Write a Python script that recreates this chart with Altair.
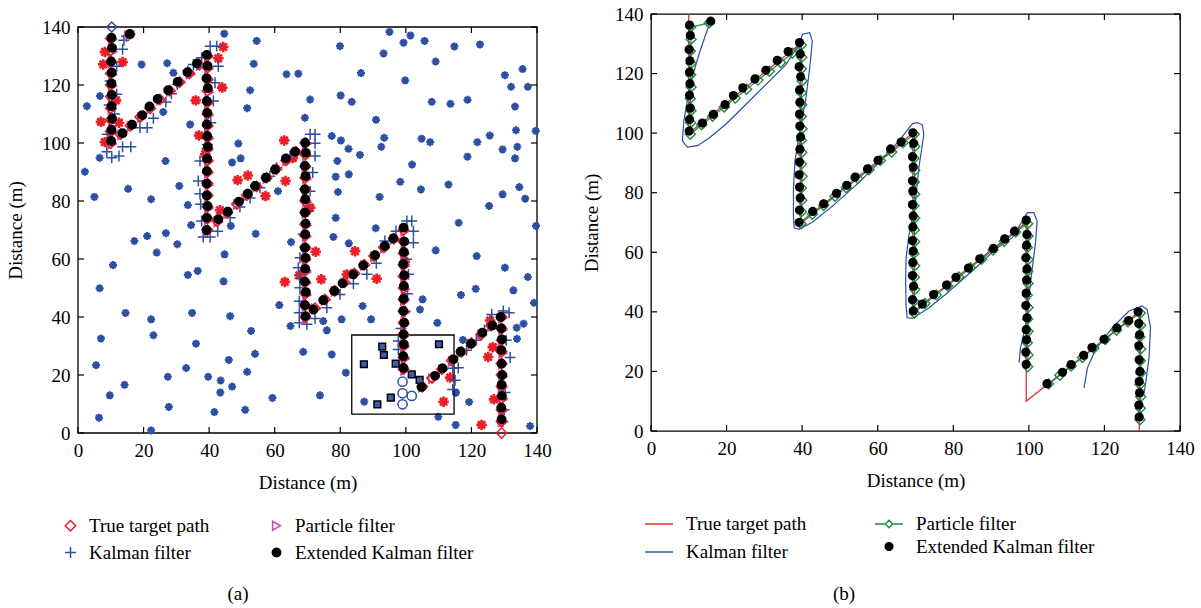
import altair as alt
import pandas as pd

FONT = "Liberation Serif"
TICKS = [0, 20, 40, 60, 80, 100, 120, 140]
LIMITS_LO = [0]
LIMITS_HI = [140]
# legend order (filled column by column): True / Kalman | Particle / Extended
SERIES = ["True target path", "Kalman filter", "Particle filter", "Extended Kalman filter"]

# ---------------- panel (a) : sensor field ----------------
SENSOR_X = [44.6, 54.5, 19.4, 27.2, 53.6, 63.6, 67.2, 29.1, 52.5, 6.7, 2.7, 51.6, 26.0, 34.2, 48.9, 6.6, 26.7, 49.6, 47.0, 2.1,
            30.9, 15.3, 61.0, 5.0, 22.3, 33.5, 34.5, 46.6, 54.2, 21.1, 26.8, 17.2, 30.3, 65.0,
            24.0, 44.7, 10.7, 33.5, 36.5, 44.4, 6.6, 61.4, 14.5, 34.8, 46.4, 22.3, 52.8, 23.0, 7.0, 36.0, 64.8, 54.0, 46.0, 5.5,
            33.0, 51.6, 27.4, 39.7, 43.5, 14.2, 47.0, 43.4, 9.7, 59.3, 27.7, 51.0, 41.6, 6.4, 22.3,
            95.0, 101.4, 79.9, 99.3, 105.7, 114.8, 122.6, 93.2, 109.1, 86.3, 99.8, 130.2, 135.6, 132.1, 137.2, 70.8, 80.1, 83.5,
            107.9, 113.6, 118.8, 133.3, 69.2, 90.9, 133.6, 139.6, 77.4, 80.2, 93.4, 104.8, 107.4, 125.6, 121.8, 82.5, 92.5, 129.5,
            134.0, 86.0, 118.8, 133.3, 79.1, 101.9, 78.6, 82.6, 98.3, 113.0, 104.6, 134.6, 79.3, 92.0, 129.5, 136.4, 125.4, 78.6,
            116.1, 139.7, 90.8, 77.9, 82.6, 109.1,
            121.6, 130.2, 137.2, 121.3, 132.8, 116.8, 105.1, 139.1, 104.3, 86.8, 80.4, 89.4, 74.8, 75.9, 109.6, 135.9, 133.8,
            133.9, 117.4, 68.7, 77.4, 81.7, 73.8, 87.3, 119.3, 115.3, 109.9, 115.2, 137.9]
SENSOR_Y = [137.7, 135.2, 127.1, 127.5, 127.3, 123.7, 123.9, 124.2, 118.2, 116.2, 112.7, 112.0, 110.7, 106.4, 99.8, 94.9, 93.8, 94.7, 93.3, 90.1,
            85.2, 84.2, 83.4, 81.4, 80.6, 78.6, 71.7, 71.4, 68.7, 67.9, 68.9, 66.2, 65.1, 65.8,
            62.2, 61.6, 57.9, 54.5, 55.9, 52.3, 49.9, 44.1, 41.4, 41.4, 40.3, 39.2, 35.2, 33.7, 32.6, 30.8, 36.9, 27.3, 25.2, 23.4,
            22.4, 21.1, 19.4, 19.4, 18.1, 16.6, 16.0, 14.0, 13.0, 12.1, 9.0, 8.0, 7.2, 5.3, 0.9,
            138.3, 137.1, 133.4, 134.6, 135.2, 133.3, 134.0, 130.9, 128.1, 124.1, 121.6, 123.4, 125.5, 119.4, 119.4, 115.0, 116.4, 114.2,
            114.2, 113.5, 114.9, 112.6, 108.7, 108.0, 104.4, 104.2, 102.4, 100.9, 101.8, 101.5, 100.3, 102.6, 100.3, 98.0, 98.7, 97.8,
            98.7, 95.9, 95.3, 94.7, 93.8, 92.6, 88.4, 89.2, 86.6, 85.7, 84.0, 84.8, 83.1, 81.4, 82.3, 80.8, 78.3, 74.2,
            72.5, 71.4, 70.6, 67.6, 65.4, 63.0,
            61.0, 57.0, 53.8, 49.7, 49.2, 47.6, 46.1, 44.9, 42.6, 43.8, 39.2, 39.2, 38.6, 35.4, 38.0, 37.7, 36.3,
            32.5, 32.1, 28.0, 27.1, 20.8, 13.0, 10.8, 10.7, 13.9, 5.6, 2.8, 2.4]

HIT_X = [15.9, 8.2, 7.7, 13.6, 44.3, 42.8, 44.0, 35.9, 11.6, 7.0, 12.5, 8.2, 36.9, 62.9, 38.8, 48.7, 51.8, 63.3, 57.2, 43.3,
         65.5, 70.8, 84.5, 63.1, 72.5, 74.2, 91.1, 67.5, 82.0, 99.7, 125.1, 126.5, 125.7, 113.5, 111.5, 126.9, 123.1]
HIT_Y = [137.5, 131.4, 127.1, 127.9, 133.1, 129.2, 119.1, 114.7, 114.7, 107.3, 107.0, 100.3, 102.6, 100.9, 96.1, 87.2, 88.8, 86.9, 81.7, 76.8,
         94.8, 77.7, 62.7, 52.1, 62.5, 53.0, 53.2, 54.4, 54.7, 59.0, 26.2, 29.6, 38.8, 19.1, 10.8, 11.6, 2.8]

# ---------------- target path and estimates ----------------
TRUE_X = [10, 10, 10, 10, 10, 10, 10, 10, 10, 10,
          13, 16, 19, 22, 25, 28, 31, 34, 37,
          39.5, 39.5, 39.5, 39.5, 39.5, 39.5, 39.5, 39.5, 39.5, 39.5, 39.5, 39.5, 39.5, 39.5, 39.5, 39.5,
          42.5, 45.5, 48.5, 51.5, 54.5, 57.5, 60.5, 63.5, 66.5,
          69.3, 69.3, 69.3, 69.3, 69.3, 69.3, 69.3, 69.3, 69.3, 69.3, 69.3, 69.3, 69.3, 69.3, 69.3, 69.3,
          72.3, 75.3, 78.3, 81.3, 84.3, 87.3, 90.3, 93.3, 96.3,
          99.3, 99.3, 99.3, 99.3, 99.3, 99.3, 99.3, 99.3, 99.3, 99.3, 99.3, 99.3, 99.3,
          105, 108, 111, 114, 117, 120, 123, 126,
          129.2, 129.2, 129.2, 129.2, 129.2, 129.2, 129.2, 129.2, 129.2, 129.2, 129.2]
TRUE_Y = [136, 132, 128, 124, 120, 116, 112, 108, 104, 100,
          103, 106, 109, 112, 115, 118, 121, 124, 127,
          130, 126, 122, 118, 114, 110, 106, 102, 98, 94, 90, 86, 82, 78, 74, 70,
          73, 76, 79, 82, 85, 88, 91, 94, 97,
          100, 96, 92, 88, 84, 80, 76, 72, 68, 64, 60, 56, 52, 48, 44, 40,
          43, 46, 49, 52, 55, 58, 61, 64, 67,
          70, 66, 62, 58, 54, 50, 46, 42, 38, 34, 30, 26, 22,
          16, 19, 22, 25, 28, 31, 34, 37,
          40, 36, 32, 28, 24, 20, 16, 12, 8, 4, 0]

EKF_X = [15.8, 10.2, 10.4, 10.1, 10.3, 10.2, 10.3, 10.2, 10.4, 10.2, 10.1,
         13.6, 16.5, 19.6, 21.8, 24.3, 27.5, 30.4, 33.4, 36.3,
         39.3, 39.5, 39.2, 39.6, 39.3, 39.4, 39.3, 39.4, 39.6, 39.4, 39.3, 39.2, 39.3, 39.5, 39.3, 39.2,
         42.8, 45.7, 49.1, 51.8, 54.0, 57.3, 60.1, 63.4, 66.2,
         69.3, 69.5, 69.2, 69.4, 69.2, 69.3, 69.2, 69.4, 69.3, 69.2, 69.4, 69.3, 69.2, 69.5, 69.2, 69.4,
         71.8, 74.8, 78.2, 80.7, 84.0, 87.0, 90.6, 93.6, 96.2,
         99.3, 99.5, 99.4, 99.2, 99.5, 99.4, 99.3, 99.2, 99.5, 99.3, 99.4, 99.2, 99.3,
         104.8, 108.9, 111.2, 114.5, 116.7, 119.9, 123.3, 126.4,
         128.9, 129.1, 129.3, 129.1, 129.2, 129.4, 129.2, 129.3, 129.1, 129.2]
EKF_Y = [137.6, 136.3, 132.8, 128.1, 124.3, 120.5, 116.6, 112.7, 108.4, 104.6, 100.7,
         103.4, 106.3, 109.6, 112.6, 115.2, 118.2, 121.1, 124.4, 127.4,
         130.4, 126.6, 122.3, 118.9, 114.5, 110.4, 106.4, 102.4, 98.7, 94.6, 90.3, 86.0, 81.9, 78.3, 74.2, 70.0,
         73.7, 76.3, 79.8, 82.5, 85.2, 88.0, 90.9, 94.7, 97.0,
         100.1, 96.6, 92.1, 88.6, 84.0, 80.6, 76.0, 72.2, 68.5, 63.9, 60.4, 56.6, 52.2, 48.6, 44.1, 40.3,
         42.6, 45.8, 49.0, 51.6, 54.7, 57.8, 61.3, 64.5, 67.1,
         70.8, 66.0, 62.4, 58.2, 54.4, 50.7, 46.3, 42.1, 38.0, 34.0, 30.6, 26.5, 22.4,
         15.9, 19.7, 22.3, 25.4, 28.0, 30.8, 34.6, 37.1,
         40.0, 36.1, 32.3, 28.6, 23.9, 20.0, 16.6, 12.8, 8.7, 4.7]

PF1_X = [15.4, 10.5, 10.6, 10.4, 10.6, 10.5, 10.6, 10.4, 10.6, 10.5, 10.4,
         13.4, 16.3, 19.4, 22.3, 25.3, 28.3, 31.3, 34.3, 37.4,
         39.8, 39.9, 39.8, 40.0, 39.8, 39.9, 39.8, 40.0, 39.8, 39.9, 39.8, 40.0, 39.8, 39.9, 39.8, 39.7,
         42.7, 45.7, 48.7, 51.7, 54.7, 57.7, 60.7, 63.7, 66.7,
         69.7, 69.8, 69.6, 69.8, 69.7, 69.8, 69.6, 69.8, 69.7, 69.8, 69.6, 69.8, 69.7, 69.8, 69.6, 69.7,
         72.5, 75.5, 78.5, 81.5, 84.5, 87.5, 90.5, 93.5, 96.5,
         99.7, 99.8, 99.6, 99.8, 99.7, 99.8, 99.6, 99.8, 99.7, 99.8, 99.6, 99.8, 99.7]
PF1_Y = [137.0, 135.6, 131.5, 127.6, 123.5, 119.6, 115.5, 111.6, 107.5, 103.5, 99.6,
         102.8, 105.7, 108.8, 111.8, 114.7, 117.8, 120.8, 123.7, 126.8,
         129.6, 125.5, 121.6, 117.5, 113.6, 109.5, 105.6, 101.5, 97.6, 93.5, 89.6, 85.5, 81.6, 77.5, 73.6, 69.6,
         72.8, 75.7, 78.8, 81.7, 84.8, 87.7, 90.8, 93.7, 96.8,
         99.6, 95.5, 91.6, 87.5, 83.6, 79.5, 75.6, 71.5, 67.6, 63.5, 59.6, 55.5, 51.6, 47.5, 43.6, 39.6,
         42.8, 45.7, 48.8, 51.7, 54.8, 57.7, 60.8, 63.7, 66.8,
         69.6, 65.5, 61.6, 57.5, 53.6, 49.5, 45.6, 41.5, 37.6, 33.5, 29.6, 25.5, 21.6]
PF2_X = [105.2, 108.2, 111.2, 114.2, 117.2, 120.2, 123.2, 126.2, 129.5, 129.6, 129.4, 129.6, 129.5, 129.6, 129.4, 129.6, 129.5, 129.4]
PF2_Y = [15.8, 18.7, 21.8, 24.7, 27.8, 30.7, 33.8, 36.7, 39.6, 35.5, 31.6, 27.5, 23.6, 19.5, 15.6, 11.5, 7.6, 3.8]

KF_A_X = [14.0, 13.6, 11.8, 9.8, 11.8, 9.5, 11.2, 8.9, 8.8, 10.3, 12.5, 13.6, 16.1, 14.8,
          18.9, 21.1, 23.0, 26.8, 28.5, 30.3, 33.5, 35.2, 37.7,
          40.3, 42.3, 42.8, 41.8, 41.3, 40.5, 39.4, 37.2, 36.7, 37.2, 37.4, 37.7, 38.2, 40.3,
          42.6, 46.4, 49.4, 52.5, 55.5, 58.5, 60.6, 64.7,
          70.8, 72.3, 72.3, 72.3, 71.6, 70.8, 70.2, 68.7, 67.7, 67.2, 67.7, 67.7, 67.5, 67.5, 67.5, 69.8,
          72.3, 75.9, 79.9, 84.0, 88.1, 91.0, 93.6, 97.0,
          100.3, 101.8, 102.3, 102.3, 100.2, 100.8, 100.5, 99.8, 98.5, 97.7, 97.7,
          114.3, 115.0, 114.3, 116.0, 118.5, 121.5, 124.0,
          126.2, 129.7, 131.5, 131.8, 130.6, 130.3, 130.0, 129.6]
KF_A_Y = [135.4, 132.3, 126.5, 121.4, 116.8, 113.1, 110.0, 103.0, 97.0, 94.9, 95.5, 98.7, 98.7, 136.8,
          105.3, 105.3, 108.5, 114.1, 117.0, 120.2, 124.8, 127.1, 129.4,
          133.4, 133.4, 126.5, 120.8, 114.5, 107.0, 99.5, 93.8, 86.9, 82.5, 78.9, 73.1, 67.6, 67.6,
          69.6, 74.2, 77.9, 81.0, 84.6, 88.5, 91.5, 95.5,
          103.0, 103.0, 99.9, 95.5, 89.8, 83.4, 76.5, 68.5, 60.4, 57.0, 53.3, 50.1, 45.4, 41.5, 38.0, 37.5,
          39.5, 43.2, 47.8, 51.5, 54.7, 58.5, 66.2, 69.6,
          73.1, 73.1, 69.6, 65.6, 59.9, 54.7, 48.0, 42.0, 36.0, 31.7, 28.8,
          22.3, 18.2, 15.0, 22.5, 28.5, 32.0, 35.5,
          40.9, 42.1, 41.5, 26.0, 32.0, 14.0, 8.0, 4.0]

START_X = [10.3]
START_Y = [140.0]

BOX_X1 = [83.5]
BOX_X2 = [114.7]
BOX_Y1 = [6.5]
BOX_Y2 = [33.8]
SQ_X = [92.8, 93.3, 87.2, 96.9, 110.1, 101.8, 104.2, 95.4, 91.3]
SQ_Y = [29.8, 26.9, 23.7, 23.9, 30.6, 20.2, 18.3, 12.2, 9.9]
CIR_X = [99.0, 99.0, 101.8, 99.0]
CIR_Y = [17.7, 13.7, 12.8, 9.9]

# ---------------- panel (b) : lines ----------------
PATH_X = [10, 10, 39.5, 39.5, 69.3, 69.3, 99.3, 99.3, 129.2, 129.2]
PATH_Y = [140, 100, 130, 70, 100, 40, 70, 10, 40, 0]

KF_B1_X = [15.8, 14.5, 12.7, 10.9, 9.6, 8.7, 8.3, 9.6, 12.3, 15.4, 19.8, 25.1, 30.4, 35.7, 39.2, 40.1, 42.0, 42.7, 42.0, 40.9,
           39.2, 38.1, 37.7, 37.7, 37.9, 39.2, 42.7, 48.0, 55.0, 61.2, 65.6, 69.2, 70.5, 71.8, 72.2, 70.9, 69.8, 68.3, 67.5, 67.4,
           67.5, 67.8, 69.2, 73.6, 78.0, 85.0, 91.2, 95.6, 97.8, 99.6, 101.3, 102.2, 101.8, 100.5, 99.2, 97.8, 97.4]
KF_B1_Y = [137.6, 133.2, 126.5, 118.7, 110.8, 104.1, 97.4, 95.3, 95.8, 98.4, 103.0, 109.6, 116.3, 123.0, 129.9, 133.2, 133.7, 130.9, 121.9, 110.8,
           99.6, 90.6, 81.7, 72.0, 68.2, 67.7, 70.1, 75.5, 83.4, 91.2, 97.4, 103.2, 103.5, 102.8, 99.6, 88.4, 75.0, 66.0, 58.0, 50.0,
           42.0, 38.0, 37.8, 41.4, 45.9, 53.7, 61.0, 64.9, 69.5, 73.3, 73.3, 70.5, 63.8, 50.4, 35.8, 28.0, 22.9]
KF_B2_X = [114.6, 115.5, 117.7, 122.1, 126.5, 130.0, 131.3, 132.2, 131.8, 130.9, 130.4]
KF_B2_Y = [14.5, 21.2, 27.4, 34.7, 40.3, 42.0, 40.8, 34.7, 24.6, 16.0, 12.0]

# ---------------- colours / shapes ----------------
RED = "#EC1D24"
BLUE = "#2D4FA3"
MAGENTA = "#C44DAF"
GREEN = "#1F8A43"
AST = "M-1,0L1,0M0,-1L0,1M-0.7,-0.7L0.7,0.7M-0.7,0.7L0.7,-0.7"
PLUS = "M-1,0L1,0M0,-1L0,1"
LINE_DIAMOND = "M-1,0L-0.26,0M0.26,0L1,0M-0.26,0L0,-0.26L0.26,0L0,0.26Z"

# panel (a): group is GA_H tall, the plot box starts TOP_A pixels lower
WA, HA, TOP_A = 459, 406, 13
GA_H = HA + TOP_A
WB, HB = 529, 417


def pts(xs, ys, **extra):
    d = pd.DataFrame({"x": xs, "y": ys})
    for k, v in extra.items():
        d[k] = v
    d["i"] = range(len(d))
    return d


XSC = alt.Scale(domain=[0, 140], nice=False, zero=False)
YSC_A = alt.Scale(domain=[0, 140], nice=False, zero=False, range=[GA_H, TOP_A])
YSC_B = alt.Scale(domain=[0, 140], nice=False, zero=False)
XAX = alt.Axis(values=TICKS, title="Distance (m)", labelPadding=8, titlePadding=13, format="d", labelFlush=False)
YAX_A = alt.Axis(values=TICKS, title="Distance (m)", labelPadding=8, titlePadding=16, format="d",
                 labelFlush=False, titleY=TOP_A + HA / 2)
YAX_B = alt.Axis(values=TICKS, title="Distance (m)", labelPadding=8, titlePadding=13, format="d", labelFlush=False)


def X():
    return alt.X("x:Q", scale=XSC, axis=XAX)


def YA():
    return alt.Y("y:Q", scale=YSC_A, axis=YAX_A)


def YB():
    return alt.Y("y:Q", scale=YSC_B, axis=YAX_B)


def frame_ticks(w, top, bottom, Y):
    tx = pd.DataFrame({"x": TICKS})
    ty = pd.DataFrame({"y": TICKS})
    L = 6
    m = dict(color="black", strokeWidth=1.2)
    return [
        alt.Chart(tx).mark_rule(**m).encode(x=X(), y=alt.value(bottom), y2=alt.value(bottom - L)),
        alt.Chart(tx).mark_rule(**m).encode(x=X(), y=alt.value(top), y2=alt.value(top + L)),
        alt.Chart(ty).mark_rule(**m).encode(y=Y(), x=alt.value(0), x2=alt.value(L)),
        alt.Chart(ty).mark_rule(**m).encode(y=Y(), x=alt.value(w), x2=alt.value(w - L)),
    ]


# ================= panel (a) =================
frame_a = alt.Chart(pd.DataFrame({"x": LIMITS_LO, "x2": LIMITS_HI, "y": LIMITS_LO, "y2": LIMITS_HI})).mark_rect(
    fill="transparent", stroke="black", strokeWidth=1.3
).encode(x=X(), x2="x2:Q", y=YA(), y2="y2:Q")

sensors = alt.Chart(pts(SENSOR_X, SENSOR_Y)).mark_point(
    shape=AST, size=64, color=BLUE, strokeWidth=2.2, filled=False, opacity=1
).encode(x=X(), y=YA())

hits = alt.Chart(pts(HIT_X, HIT_Y)).mark_point(
    shape=AST, size=110, color=RED, strokeWidth=2.6, filled=False, opacity=1
).encode(x=X(), y=YA())

box = alt.Chart(pd.DataFrame({"x": BOX_X1, "x2": BOX_X2, "y": BOX_Y1, "y2": BOX_Y2})).mark_rect(
    fill="transparent", stroke="black", strokeWidth=1.3
).encode(x=X(), x2="x2:Q", y=YA(), y2="y2:Q")

squares = alt.Chart(pts(SQ_X, SQ_Y)).mark_point(
    shape="square", size=45, fill="#3A5CB2", stroke="black", strokeWidth=1.5, filled=True, opacity=1
).encode(x=X(), y=YA())

circles = alt.Chart(pts(CIR_X, CIR_Y)).mark_point(
    shape="circle", size=85, color=BLUE, strokeWidth=1.5, filled=False, opacity=1
).encode(x=X(), y=YA())

main_a = pd.concat([
    pts(KF_A_X, KF_A_Y, series="Kalman filter"),
    pts(PF1_X + PF2_X, PF1_Y + PF2_Y, series="Particle filter"),
    pts(TRUE_X, TRUE_Y, series="True target path"),
    pts(EKF_X, EKF_Y, series="Extended Kalman filter"),
], ignore_index=True)

LEG_A = alt.Legend(orient="none", legendX=-17, legendY=502, columns=2, columnPadding=57, rowPadding=7,
                   labelOffset=9, title=None, symbolStrokeWidth=1.5, padding=0,
                   labelFont=FONT, labelFontSize=19, labelColor="black", labelLimit=300)

markers_a = alt.Chart(main_a).mark_point(filled=False, strokeWidth=1.5, opacity=1).encode(
    x=X(), y=YA(),
    stroke=alt.Stroke("series:N", scale=alt.Scale(domain=SERIES, range=[RED, BLUE, MAGENTA, "#000000"]), legend=LEG_A),
    fill=alt.Fill("series:N", scale=alt.Scale(domain=SERIES, range=["transparent", "transparent", "transparent", "#000000"]), legend=LEG_A),
    shape=alt.Shape("series:N", scale=alt.Scale(domain=SERIES, range=["diamond", PLUS, "triangle-right", "circle"]), legend=LEG_A),
    size=alt.Size("series:N", scale=alt.Scale(type="ordinal", domain=SERIES, range=[110, 120, 80, 70]), legend=LEG_A),
)

start = alt.Chart(pts(START_X, START_Y)).mark_point(
    shape="diamond", size=100, color=BLUE, strokeWidth=1.5, filled=False, opacity=1
).encode(x=X(), y=YA())

label_a = alt.Chart(pd.DataFrame({"t": ["(a)"]})).mark_text(
    font=FONT, fontSize=19, color="black", align="center", baseline="middle"
).encode(text="t:N", x=alt.value(160), y=alt.value(580))

panel_a = alt.layer(
    frame_a, sensors, hits, box, squares, circles, markers_a, start, label_a,
    *frame_ticks(WA, TOP_A, GA_H, YA)
).properties(width=WA, height=GA_H, view=alt.ViewBackground(stroke="transparent"))

# ================= panel (b) =================
truth_line = alt.Chart(pts(PATH_X, PATH_Y)).mark_line(color=RED, strokeWidth=1.2).encode(
    x=X(), y=YB(), order="i:Q")

kf_line = alt.Chart(pd.concat([pts(KF_B1_X, KF_B1_Y, part="k1"), pts(KF_B2_X, KF_B2_Y, part="k2")],
                              ignore_index=True)).mark_line(color=BLUE, strokeWidth=1.2).encode(
    x=X(), y=YB(), detail="part:N", order="i:Q")

pf_df = pd.concat([pts(PF1_X, PF1_Y, part="p1"), pts(PF2_X, PF2_Y, part="p2")], ignore_index=True)
pf_line = alt.Chart(pf_df).mark_line(color=GREEN, strokeWidth=1.2).encode(
    x=X(), y=YB(), detail="part:N", order="i:Q")
pf_pts = alt.Chart(pf_df).mark_point(shape="diamond", size=100, color=GREEN, strokeWidth=1.4,
                                     filled=False, opacity=1).encode(x=X(), y=YB())
ekf_pts = alt.Chart(pts(EKF_X, EKF_Y)).mark_circle(size=85, color="black", opacity=1).encode(x=X(), y=YB())

LEG_B = alt.Legend(orient="none", legendX=-7, legendY=495, columns=2, columnPadding=65, rowPadding=3,
                   labelOffset=12, title=None, symbolStrokeWidth=1.4, padding=0,
                   labelFont=FONT, labelFontSize=19, labelColor="black", labelLimit=300)

legend_b = alt.Chart(pd.DataFrame({"series": SERIES, "x": [None] * 4, "y": [None] * 4})).mark_point(
    filled=False, opacity=1).encode(
    x=X(), y=YB(),
    stroke=alt.Stroke("series:N", scale=alt.Scale(domain=SERIES, range=[RED, BLUE, GREEN, "#000000"]), legend=LEG_B),
    fill=alt.Fill("series:N", scale=alt.Scale(domain=SERIES, range=["transparent", "transparent", "#ffffff", "#000000"]), legend=LEG_B),
    shape=alt.Shape("series:N", scale=alt.Scale(domain=SERIES, range=["stroke", "stroke", LINE_DIAMOND, "circle"]), legend=LEG_B),
    size=alt.Size("series:N", scale=alt.Scale(type="ordinal", domain=SERIES, range=[784, 784, 784, 60]), legend=LEG_B),
)

label_b = alt.Chart(pd.DataFrame({"t": ["(b)"]})).mark_text(
    font=FONT, fontSize=19, color="black", align="center", baseline="middle"
).encode(text="t:N", x=alt.value(193), y=alt.value(580))

panel_b = alt.layer(
    truth_line, kf_line, pf_line, pf_pts, ekf_pts, legend_b, label_b, *frame_ticks(WB, 0, HB, YB)
).properties(width=WB, height=HB)

chart = alt.hconcat(panel_a, panel_b, spacing=29).resolve_scale(
    stroke="independent", fill="independent", shape="independent", size="independent"
).resolve_legend(
    stroke="independent", fill="independent", shape="independent", size="independent"
).configure_view(stroke="black", strokeWidth=1.3).configure_axis(
    labelFont=FONT, labelFontSize=19, labelColor="black", titleFont=FONT, titleFontSize=19,
    titleFontWeight="normal", titleColor="black", domain=False, ticks=False, grid=False
).configure_legend(labelFont=FONT, labelFontSize=19, labelColor="black").properties(
    padding={"left": 5, "right": 5, "top": 4, "bottom": 0}, background="white")

chart.save("out.html", embed_options={"renderer": "svg", "actions": False})
